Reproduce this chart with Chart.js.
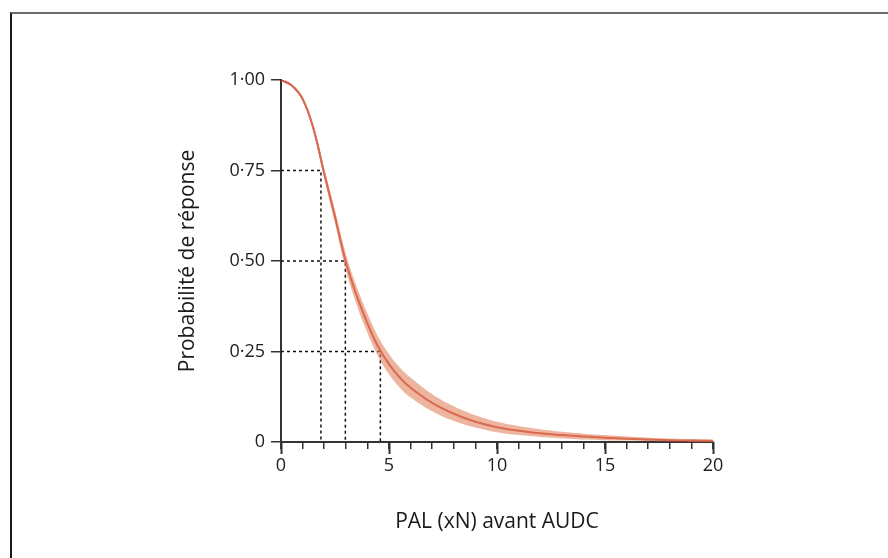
<!DOCTYPE html>
<html>
  <head>
    <meta charset="utf-8">
    <script src="https://cdn.jsdelivr.net/npm/chart.js"></script>
    <style>
      body {
        margin: 0;
        background: #fff;
      }
      .frame {
        position: absolute;
        left: 10px;
        top: 12px;
        width: 878px;
        height: 546px;
        border-top: 2px solid #6a6a6a;
        border-left: 2px solid #1a1a1a;
      }
      .wrap {
        position: absolute;
        left: 0;
        top: 0;
        width: 888px;
        height: 558px;
      }
    </style>
  </head>
  <body>
    <div class="frame"></div>
    <div class="wrap">
      <canvas id="curveChart" width="888" height="558"></canvas>
    </div>

    <script>
      // PAL (xN) values along the x axis
      var palValues = [0, 0.5, 1, 1.5, 2, 2.5, 3, 3.5, 4, 4.5, 5, 5.5, 6, 7, 8, 9, 10, 11, 12, 13, 14, 15, 16, 17, 18, 19, 20];
      // probability of response (centre line) and its band
      var probValues = [1.0, 0.985, 0.948, 0.866, 0.742, 0.622, 0.498, 0.405, 0.328, 0.263, 0.215, 0.178, 0.15, 0.108, 0.078, 0.056, 0.041, 0.031, 0.024, 0.019, 0.015, 0.012, 0.009, 0.007, 0.005, 0.004, 0.003];
      var probUpper = [1.0, 0.988, 0.953, 0.876, 0.756, 0.64, 0.52, 0.43, 0.355, 0.291, 0.243, 0.206, 0.178, 0.132, 0.099, 0.074, 0.056, 0.044, 0.035, 0.028, 0.023, 0.019, 0.015, 0.012, 0.01, 0.008, 0.007];
      var probLower = [1.0, 0.982, 0.943, 0.856, 0.728, 0.604, 0.476, 0.38, 0.302, 0.236, 0.187, 0.15, 0.123, 0.085, 0.058, 0.04, 0.027, 0.019, 0.014, 0.01, 0.007, 0.005, 0.004, 0.003, 0.002, 0.001, 0.001];

      // dotted guide lines: probability level and PAL where the curve crosses it
      var guideProbs = [0.75, 0.5, 0.25];
      var guidePal = [1.85, 2.98, 4.6];

      var yTickValues = [0, 0.25, 0.5, 0.75, 1];
      var yTickLabels = ['0', '0·25', '0·50', '0·75', '1·00'];
      var xMajorTicks = [0, 5, 10, 15, 20];

      function toPoints(xs, ys) {
        return xs.map(function(x, i) { return { x: x, y: ys[i] }; });
      }

      var guideSets = guideProbs.map(function(p, i) {
        return {
          label: 'guide ' + p,
          data: [{ x: 0, y: p }, { x: guidePal[i], y: p }, { x: guidePal[i], y: 0 }],
          borderColor: '#111',
          borderWidth: 1.5,
          borderDash: [3, 3],
          pointRadius: 0,
          fill: false,
          tension: 0
        };
      });

      // longer marks for the major x ticks
      var majorTicks = {
        id: 'majorTicks',
        afterDraw: function(chart) {
          var ctx = chart.ctx;
          var xs = chart.scales.x;
          var bottom = chart.chartArea.bottom;
          ctx.save();
          ctx.strokeStyle = '#333';
          ctx.lineWidth = 2;
          xMajorTicks.forEach(function(v) {
            var px = Math.round(xs.getPixelForValue(v)) + 0.5;
            ctx.beginPath();
            ctx.moveTo(px, bottom);
            ctx.lineTo(px, bottom + 12);
            ctx.stroke();
          });
          ctx.restore();
        }
      };

      var ctx = document.getElementById('curveChart').getContext('2d');
      new Chart(ctx, {
        type: 'line',
        data: {
          datasets: [
            {
              label: 'upper',
              data: toPoints(palValues, probUpper),
              borderWidth: 0,
              borderColor: 'rgba(0,0,0,0)',
              pointRadius: 0,
              fill: false,
              tension: 0.4
            },
            {
              label: 'lower',
              data: toPoints(palValues, probLower),
              borderWidth: 0,
              borderColor: 'rgba(0,0,0,0)',
              backgroundColor: 'rgba(226, 135, 100, 0.62)',
              pointRadius: 0,
              fill: '-1',
              tension: 0.4
            },
            {
              label: 'probabilite',
              data: toPoints(palValues, probValues),
              borderColor: 'rgb(205, 55, 45)',
              borderWidth: 2,
              pointRadius: 0,
              fill: false,
              tension: 0.4
            }
          ].concat(guideSets)
        },
        options: {
          responsive: false,
          animation: false,
          layout: {
            padding: { left: 0, top: 80, right: 175, bottom: 0 }
          },
          plugins: {
            legend: { display: false },
            tooltip: { enabled: false }
          },
          scales: {
            x: {
              type: 'linear',
              min: 0,
              max: 20,
              afterFit: function(scale) { scale.height = 116; },
              grid: {
                drawOnChartArea: false,
                tickLength: 7,
                color: '#333',
                lineWidth: 1.5
              },
              border: { display: true, color: '#333', width: 2 },
              ticks: {
                stepSize: 1,
                autoSkip: false,
                maxRotation: 0,
                padding: 6,
                color: '#222',
                font: { family: 'Open Sans', size: 18 },
                callback: function(v) {
                  return xMajorTicks.indexOf(v) >= 0 ? String(v) : '';
                }
              },
              title: {
                display: true,
                text: 'PAL (xN) avant AUDC',
                color: '#1a1a1a',
                font: { family: 'Open Sans', size: 21 },
                padding: { top: 0, bottom: 23 }
              }
            },
            y: {
              min: 0,
              max: 1,
              afterFit: function(scale) { scale.width = 281; },
              afterBuildTicks: function(scale) {
                scale.ticks = yTickValues.map(function(v) { return { value: v }; });
              },
              grid: {
                drawOnChartArea: false,
                tickLength: 10,
                color: '#333',
                lineWidth: 1.5
              },
              border: { display: true, color: '#333', width: 2 },
              ticks: {
                padding: 6,
                color: '#222',
                font: { family: 'Open Sans', size: 18 },
                callback: function(v) {
                  var i = yTickValues.indexOf(v);
                  return i >= 0 ? yTickLabels[i] : '';
                }
              },
              title: {
                display: true,
                text: 'Probabilité de réponse',
                color: '#1a1a1a',
                font: { family: 'Open Sans', size: 21 },
                padding: { top: 175, bottom: 0 }
              }
            }
          }
        },
        plugins: [majorTicks]
      });
    </script>
  </body>
</html>
